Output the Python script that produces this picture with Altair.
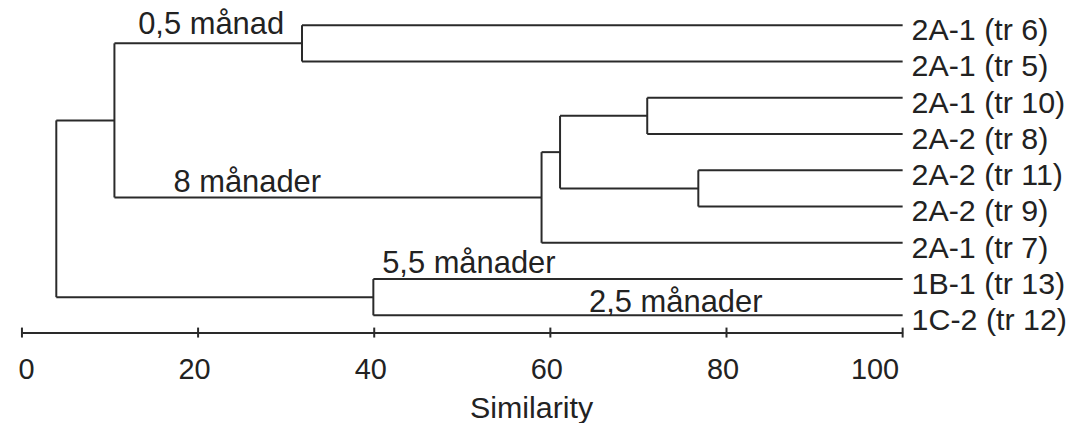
import altair as alt
import pandas as pd

# ---- data ----
leaves = ["2A-1 (tr 6)", "2A-1 (tr 5)", "2A-1 (tr 10)", "2A-2 (tr 8)",
          "2A-2 (tr 11)", "2A-2 (tr 9)", "2A-1 (tr 7)", "1B-1 (tr 13)", "1C-2 (tr 12)"]
# linkage: node ids 0..8 are leaves, 9.. are merges in order
merge_left = [0, 2, 4, 10, 12, 9, 7, 14]
merge_right = [1, 3, 5, 11, 6, 13, 8, 15]
merge_sim = [31.8, 71.0, 76.8, 61.1, 59.0, 10.5, 39.9, 3.9]

ann_text = ["0,5 månad", "8 månader", "5,5 månader", "2,5 månader"]
ann_sim = [13.2, 17.2, 40.9, 64.4]
ann_row = [0.234, 4.60, 6.83, 7.90]

tick_values = [0, 20, 40, 60, 80, 100]

# ---- build dendrogram segments from the linkage ----
n = len(leaves)
pos = {i: (float(i), 100.0) for i in range(n)}
segs = []
for k, (a, b, h) in enumerate(zip(merge_left, merge_right, merge_sim)):
    ya, ha = pos[a]
    yb, hb = pos[b]
    segs.append(dict(x=h, x2=ha, y=ya, y2=ya))
    segs.append(dict(x=h, x2=hb, y=yb, y2=yb))
    segs.append(dict(x=h, x2=h, y=ya, y2=yb))
    pos[n + k] = ((ya + yb) / 2, h)

seg_df = pd.DataFrame(segs)
leaf_df = pd.DataFrame({"label": leaves, "row": list(range(n)), "x": [100.0] * n})
ann_df = pd.DataFrame({"text": ann_text, "x": ann_sim, "row": ann_row})
tick_df = pd.DataFrame({"x": tick_values})

W = 884
H = 325
FONT = "Liberation Sans"
INK = "#222222"
LINE = "#2a2a2a"

xscale = alt.Scale(domain=[0, 100], nice=False, zero=False)
yscale = alt.Scale(domain=[-0.453, 8.475], reverse=True, nice=False, zero=False)
xaxis = alt.Axis(values=tick_values, grid=False, ticks=False,
                 domainColor=LINE, domainWidth=2,
                 labelFontSize=29, labelFont=FONT, labelColor=INK,
                 labelPadding=23, labelOffset=-4,
                 title="Similarity", titleFontSize=30.5, titleFont=FONT,
                 titleFontWeight="normal", titleColor=INK,
                 titleX=511, titleY=85, titleBaseline="alphabetic", titleAlign="center")

tree = alt.Chart(seg_df).mark_rule(color=LINE, strokeWidth=2).encode(
    x=alt.X("x:Q", scale=xscale, axis=xaxis),
    x2="x2:Q",
    y=alt.Y("y:Q", scale=yscale, axis=None),
    y2="y2:Q",
)

ticks = alt.Chart(tick_df).mark_rule(color=LINE, strokeWidth=2).encode(
    x=alt.X("x:Q", scale=xscale, axis=xaxis),
    y=alt.value(H - 5),
    y2=alt.value(H + 5),
)

leaf_text = alt.Chart(leaf_df).mark_text(
    align="left", baseline="alphabetic", dx=9, dy=15,
    fontSize=30.5, font=FONT, color=INK,
).encode(
    x=alt.X("x:Q", scale=xscale, axis=xaxis),
    y=alt.Y("row:Q", scale=yscale, axis=None),
    text="label:N",
)

ann = alt.Chart(ann_df).mark_text(
    align="left", baseline="alphabetic",
    fontSize=31, font=FONT, color=INK,
).encode(
    x=alt.X("x:Q", scale=xscale, axis=xaxis),
    y=alt.Y("row:Q", scale=yscale, axis=None),
    text="text:N",
)

chart = alt.layer(tree, ticks, leaf_text, ann).properties(
    width=W, height=H,
    autosize=alt.AutoSizeParams(type="none"),
    padding={"left": 14, "top": 0, "right": 170, "bottom": 90},
).configure(
    background="white",
    view=alt.ViewConfig(stroke=None),
)

chart.save("out.html", embed_options={"renderer": "svg", "actions": False})
